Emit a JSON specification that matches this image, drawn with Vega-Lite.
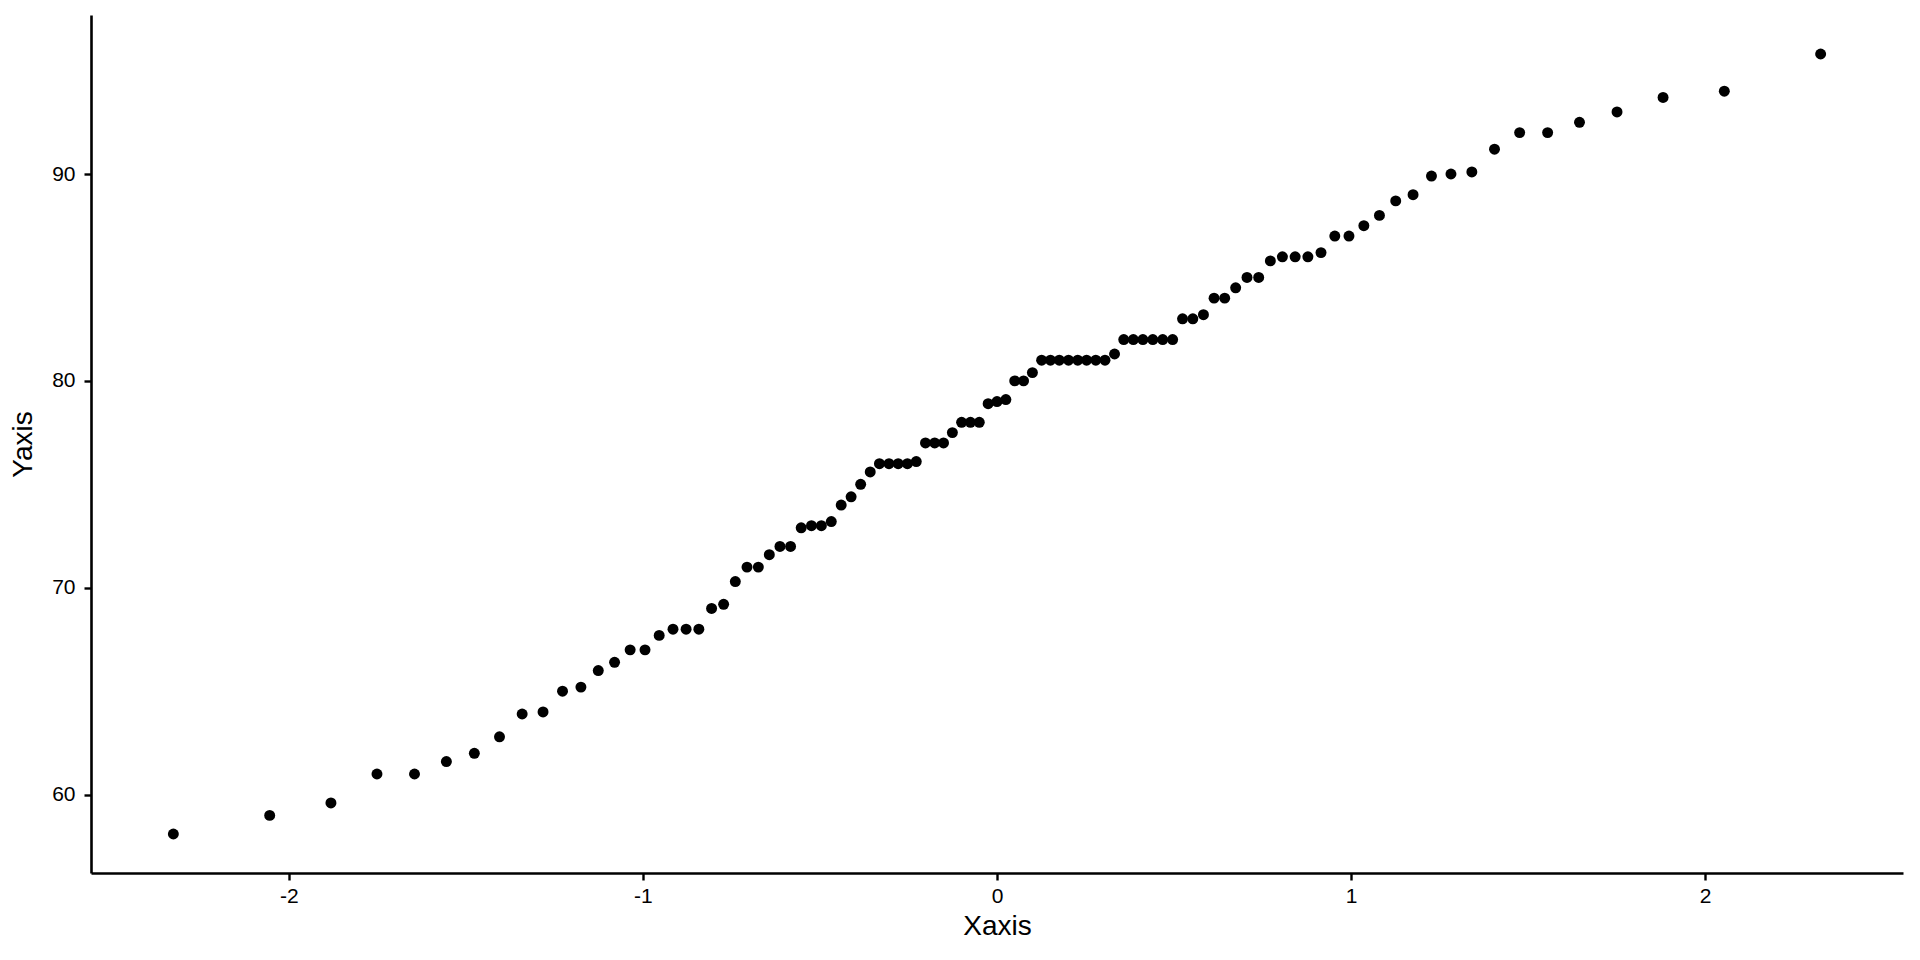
{
  "$schema": "https://vega.github.io/schema/vega-lite/v6.json",
  "autosize": {"type": "none"},
  "padding": {"left": 91, "top": 15, "right": 17, "bottom": 87},
  "width": 1812,
  "height": 858,
  "background": "white",
  "config": {
    "view": {"stroke": null},
    "axis": {
      "grid": false,
      "domainColor": "black",
      "domainWidth": 2.6,
      "tickColor": "black",
      "tickWidth": 2.4,
      "tickSize": 7,
      "labelColor": "black",
      "labelFont": "Liberation Sans",
      "labelFontSize": 21,
      "labelPadding": 5,
      "titleColor": "black",
      "titleFont": "Liberation Sans",
      "titleFontSize": 28,
      "titleFontWeight": "normal"
    }
  },
  "data": {
    "values": [
      {"x": -2.326, "y": 58.1}, {"x": -2.054, "y": 59.0}, {"x": -1.881, "y": 59.6}, {"x": -1.751, "y": 61.0},
      {"x": -1.645, "y": 61.0}, {"x": -1.555, "y": 61.6}, {"x": -1.476, "y": 62.0}, {"x": -1.405, "y": 62.8},
      {"x": -1.341, "y": 63.9}, {"x": -1.282, "y": 64.0}, {"x": -1.227, "y": 65.0}, {"x": -1.175, "y": 65.2},
      {"x": -1.126, "y": 66.0}, {"x": -1.080, "y": 66.4}, {"x": -1.036, "y": 67.0}, {"x": -0.994, "y": 67.0},
      {"x": -0.954, "y": 67.7}, {"x": -0.915, "y": 68.0}, {"x": -0.878, "y": 68.0}, {"x": -0.842, "y": 68.0},
      {"x": -0.806, "y": 69.0}, {"x": -0.772, "y": 69.2}, {"x": -0.739, "y": 70.3}, {"x": -0.706, "y": 71.0},
      {"x": -0.674, "y": 71.0}, {"x": -0.643, "y": 71.6}, {"x": -0.613, "y": 72.0}, {"x": -0.583, "y": 72.0},
      {"x": -0.553, "y": 72.9}, {"x": -0.524, "y": 73.0}, {"x": -0.496, "y": 73.0}, {"x": -0.468, "y": 73.2},
      {"x": -0.440, "y": 74.0}, {"x": -0.412, "y": 74.4}, {"x": -0.385, "y": 75.0}, {"x": -0.358, "y": 75.6},
      {"x": -0.332, "y": 76.0}, {"x": -0.305, "y": 76.0}, {"x": -0.279, "y": 76.0}, {"x": -0.253, "y": 76.0},
      {"x": -0.228, "y": 76.1}, {"x": -0.202, "y": 77.0}, {"x": -0.176, "y": 77.0}, {"x": -0.151, "y": 77.0},
      {"x": -0.126, "y": 77.5}, {"x": -0.100, "y": 78.0}, {"x": -0.075, "y": 78.0}, {"x": -0.050, "y": 78.0},
      {"x": -0.025, "y": 78.9}, {"x": 0.000, "y": 79.0}, {"x": 0.025, "y": 79.1}, {"x": 0.050, "y": 80.0},
      {"x": 0.075, "y": 80.0}, {"x": 0.100, "y": 80.4}, {"x": 0.126, "y": 81.0}, {"x": 0.151, "y": 81.0},
      {"x": 0.176, "y": 81.0}, {"x": 0.202, "y": 81.0}, {"x": 0.228, "y": 81.0}, {"x": 0.253, "y": 81.0},
      {"x": 0.279, "y": 81.0}, {"x": 0.305, "y": 81.0}, {"x": 0.332, "y": 81.3}, {"x": 0.358, "y": 82.0},
      {"x": 0.385, "y": 82.0}, {"x": 0.412, "y": 82.0}, {"x": 0.440, "y": 82.0}, {"x": 0.468, "y": 82.0},
      {"x": 0.496, "y": 82.0}, {"x": 0.524, "y": 83.0}, {"x": 0.553, "y": 83.0}, {"x": 0.583, "y": 83.2},
      {"x": 0.613, "y": 84.0}, {"x": 0.643, "y": 84.0}, {"x": 0.674, "y": 84.5}, {"x": 0.706, "y": 85.0},
      {"x": 0.739, "y": 85.0}, {"x": 0.772, "y": 85.8}, {"x": 0.806, "y": 86.0}, {"x": 0.842, "y": 86.0},
      {"x": 0.878, "y": 86.0}, {"x": 0.915, "y": 86.2}, {"x": 0.954, "y": 87.0}, {"x": 0.994, "y": 87.0},
      {"x": 1.036, "y": 87.5}, {"x": 1.080, "y": 88.0}, {"x": 1.126, "y": 88.7}, {"x": 1.175, "y": 89.0},
      {"x": 1.227, "y": 89.9}, {"x": 1.282, "y": 90.0}, {"x": 1.341, "y": 90.1}, {"x": 1.405, "y": 91.2},
      {"x": 1.476, "y": 92.0}, {"x": 1.555, "y": 92.0}, {"x": 1.645, "y": 92.5}, {"x": 1.751, "y": 93.0},
      {"x": 1.881, "y": 93.7}, {"x": 2.054, "y": 94.0}, {"x": 2.326, "y": 95.8}
    ]
  },
  "mark": {"type": "circle", "color": "black", "opacity": 1, "size": 120},
  "encoding": {
    "x": {
      "field": "x", "type": "quantitative", "title": "Xaxis",
      "scale": {"domain": [-2.5586, 2.5586], "nice": false, "zero": false},
      "axis": {"values": [-2, -1, 0, 1, 2], "labelExpr": "datum.value < 0 ? '-' + abs(datum.value) : '' + datum.value", "titlePadding": 6}
    },
    "y": {
      "field": "y", "type": "quantitative", "title": "Yaxis",
      "scale": {"domain": [56.215, 97.685], "nice": false, "zero": false},
      "axis": {"values": [60, 70, 80, 90], "format": "d", "labelPadding": 9, "titlePadding": 14}
    }
  }
}
